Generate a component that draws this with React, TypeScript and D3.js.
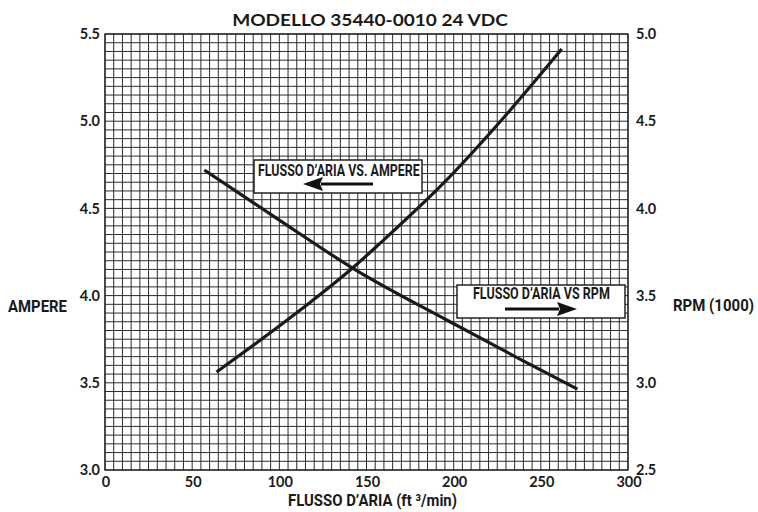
import React, { useLayoutEffect, useRef, useState } from "react";
import * as d3 from "d3";

// ---- data ----
const ampereFlow = [57, 100, 142, 196, 238, 271];
const ampereValues = [4.72, 4.433, 4.158, 3.86, 3.636, 3.464];
const rpmFlow = [64, 112, 142, 158, 196, 227, 262];
const rpmValues = [3.062, 3.417, 3.658, 3.802, 4.163, 4.501, 4.914];
const xTicks = [0, 50, 100, 150, 200, 250, 300];
const ampTicks = [3.0, 3.5, 4.0, 4.5, 5.0, 5.5];
const rpmTicks = [2.5, 3.0, 3.5, 4.0, 4.5, 5.0];

const W = 758;
const H = 512;
const L = 105;
const R = 628;
const T = 34;
const B = 470;

const labelFont = "Lato, 'Open Sans', sans-serif";
const condFont = "Roboto, 'Liberation Sans', sans-serif";

// text horizontally squeezed to a target width (condensed look)
function FitText(props: {
  x: number;
  y: number;
  width: number;
  size: number;
  family: string;
  anchor?: "start" | "middle";
  children: string;
}) {
  const ref = useRef<SVGTextElement>(null);
  const [sx, setSx] = useState(1);
  useLayoutEffect(() => {
    if (ref.current) {
      const w = ref.current.getComputedTextLength();
      if (w > 0) setSx(props.width / w);
    }
  }, [props.width, props.children]);
  return (
    <g transform={`translate(${props.x},${props.y}) scale(${sx},1)`}>
      <text
        ref={ref}
        x={0}
        y={0}
        textAnchor={props.anchor || "start"}
        fontFamily={props.family}
        fontWeight={700}
        fontSize={props.size}
        fill="#1a1a1a"
      >
        {props.children}
      </text>
    </g>
  );
}

export default function App() {
  const x = d3.scaleLinear().domain([0, 300]).range([L, R]);
  const yA = d3.scaleLinear().domain([3.0, 5.5]).range([B, T]);
  const yR = d3.scaleLinear().domain([2.5, 5.0]).range([B, T]);

  const vGrid = d3.range(0, 300.01, 5);
  const hGrid = d3.range(3.0, 5.5001, 0.05);

  const ampLine = d3
    .line<number>()
    .x((_, i) => x(ampereFlow[i]))
    .y((d) => yA(d))
    .curve(d3.curveMonotoneX)(ampereValues) as string;
  const rpmLine = d3
    .line<number>()
    .x((_, i) => x(rpmFlow[i]))
    .y((d) => yR(d))
    .curve(d3.curveMonotoneX)(rpmValues) as string;

  const gridColor = "#2b2b2b";

  const arrow = (x1: number, x2: number, y: number) => {
    const dir = x2 > x1 ? 1 : -1;
    const headL = 20;
    const headH = 7;
    const base = x2 - dir * headL;
    return (
      <g>
        <line x1={x1} y1={y} x2={base + dir * 2} y2={y} stroke="#111" strokeWidth={3} />
        <path d={`M${x2},${y} L${base},${y - headH} L${base + dir * 3},${y} L${base},${y + headH} Z`} fill="#111" />
      </g>
    );
  };

  return (
    <svg
      width={W}
      height={H}
      viewBox={`0 0 ${W} ${H}`}
      style={{ position: "absolute", left: 0, top: 0, background: "#fff" }}
    >
      <rect x={0} y={0} width={W} height={H} fill="#fff" />
      {/* title */}
      <FitText x={370} y={26} width={276} size={17} family={labelFont} anchor="middle">
        MODELLO 35440-0010 24 VDC
      </FitText>

      {/* grid */}
      <g>
        {vGrid.map((v, i) => (
          <line key={"v" + i} x1={x(v)} x2={x(v)} y1={T} y2={B} stroke={gridColor} strokeWidth={1} />
        ))}
        {hGrid.map((v, i) => (
          <line key={"h" + i} x1={L} x2={R} y1={yA(v)} y2={yA(v)} stroke={gridColor} strokeWidth={1} />
        ))}
        <rect x={L} y={T} width={R - L} height={B - T} fill="none" stroke="#222" strokeWidth={1.3} />
      </g>

      {/* curves */}
      <path d={ampLine} fill="none" stroke="#1a1a1a" strokeWidth={3.2} strokeLinecap="butt" />
      <path d={rpmLine} fill="none" stroke="#1a1a1a" strokeWidth={3.2} strokeLinecap="butt" />

      {/* legend box 1 */}
      <rect x={254} y={160} width={168} height={33} fill="#fff" stroke="#222" strokeWidth={1.5} />
      <FitText x={258} y={176} width={162} size={17} family={condFont}>
        FLUSSO D’ARIA VS. AMPERE
      </FitText>
      {arrow(373, 303, 184)}

      {/* legend box 2 */}
      <rect x={457} y={285} width={168} height={33} fill="#fff" stroke="#222" strokeWidth={1.5} />
      <FitText x={473} y={299} width={137} size={17} family={condFont}>
        FLUSSO D’ARIA VS RPM
      </FitText>
      {arrow(505, 577, 309)}

      {/* left ticks */}
      {ampTicks.map((t) => (
        <text
          key={"a" + t}
          x={100}
          y={yA(t)}
          dy="0.36em"
          textAnchor="end"
          fontFamily={labelFont}
          fontWeight={700}
          fontSize={14.5}
          fill="#1a1a1a"
        >
          {t.toFixed(1)}
        </text>
      ))}
      {/* right ticks */}
      {rpmTicks.map((t) => (
        <text
          key={"r" + t}
          x={636}
          y={yR(t)}
          dy="0.36em"
          textAnchor="start"
          fontFamily={labelFont}
          fontWeight={700}
          fontSize={14.5}
          fill="#1a1a1a"
        >
          {t.toFixed(1)}
        </text>
      ))}
      {/* x ticks */}
      {xTicks.map((t) => (
        <text
          key={"x" + t}
          x={x(t) + 1}
          y={487}
          textAnchor="middle"
          fontFamily={labelFont}
          fontWeight={700}
          fontSize={14.5}
          fill="#1a1a1a"
        >
          {t}
        </text>
      ))}

      {/* axis titles */}
      <FitText x={288} y={506} width={169} size={16.5} family={condFont}>
        FLUSSO D’ARIA (ft ³/min)
      </FitText>
      <FitText x={8} y={312} width={59} size={17} family={condFont}>
        AMPERE
      </FitText>
      <FitText x={673} y={311} width={81} size={16} family={condFont}>
        RPM (1000)
      </FitText>
    </svg>
  );
}
